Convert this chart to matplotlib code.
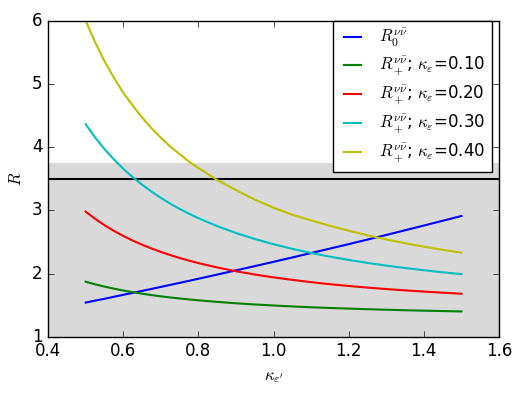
import matplotlib
matplotlib.use("Agg")
import matplotlib.pyplot as plt

plt.style.use("classic")

kappa = [0.500, 0.525, 0.550, 0.575, 0.600, 0.625, 0.650, 0.675, 0.700, 0.725,
         0.750, 0.775, 0.80, 0.85, 0.90, 0.95, 1.00,
         1.05, 1.10, 1.15, 1.20, 1.25, 1.30, 1.35, 1.40, 1.45, 1.50]

R0 = [1.540, 1.571, 1.600, 1.632, 1.663, 1.694, 1.725, 1.756, 1.788, 1.820,
      1.852, 1.884, 1.917, 1.983, 2.05, 2.117, 2.185,
      2.254, 2.324, 2.394, 2.465, 2.537, 2.61, 2.684, 2.759, 2.834, 2.91]

R_k010 = [1.870, 1.829, 1.793, 1.760, 1.731, 1.705, 1.681, 1.659, 1.639, 1.621,
          1.605, 1.590, 1.576, 1.551, 1.529, 1.510, 1.494,
          1.479, 1.466, 1.455, 1.445, 1.435, 1.427, 1.419, 1.412, 1.406, 1.400]

R_k020 = [2.979, 2.866, 2.765, 2.675, 2.594, 2.522, 2.456, 2.396, 2.342, 2.292,
          2.246, 2.204, 2.165, 2.096, 2.036, 1.984, 1.939,
          1.899, 1.863, 1.831, 1.803, 1.777, 1.754, 1.733, 1.714, 1.696, 1.680]

R_k030 = [4.361, 4.154, 3.970, 3.806, 3.658, 3.526, 3.406, 3.297, 3.197, 3.106,
          3.023, 2.946, 2.876, 2.750, 2.641, 2.546, 2.463,
          2.390, 2.325, 2.267, 2.215, 2.168, 2.125, 2.087, 2.052, 2.019, 1.990]

R_k040 = [6.000, 5.660, 5.360, 5.100, 4.860, 4.660, 4.470, 4.300, 4.150, 4.010,
          3.890, 3.770, 3.670, 3.480, 3.320, 3.170, 3.040,
          2.930, 2.840, 2.755, 2.677, 2.605, 2.539, 2.479, 2.425, 2.375, 2.330]

labels = [r"$R_0^{\nu\bar\nu}$",
          r"$R_+^{\nu\bar\nu}$; $\kappa_\varepsilon$=0.10",
          r"$R_+^{\nu\bar\nu}$; $\kappa_\varepsilon$=0.20",
          r"$R_+^{\nu\bar\nu}$; $\kappa_\varepsilon$=0.30",
          r"$R_+^{\nu\bar\nu}$; $\kappa_\varepsilon$=0.40"]
colors = ["b", "g", "r", "c", "y"]

band_low, band_high = 1.0, 3.75
bound = 3.5

fig = plt.figure(figsize=(5.23, 3.94), dpi=100, facecolor="white")
ax = fig.add_axes([0.092, 0.1454, 0.862, 0.802])

ax.axhspan(band_low, band_high, color="#d9d9d9", lw=0, zorder=0)
ax.axhline(bound, color="k", lw=1.5, zorder=1)

for y, c, lab in zip([R0, R_k010, R_k020, R_k030, R_k040], colors, labels):
    ax.plot(kappa, y, color=c, lw=1.5, label=lab, zorder=2)

ax.set_xlim(0.4, 1.6)
ax.set_ylim(1, 6)
ax.set_xticks([0.4, 0.6, 0.8, 1.0, 1.2, 1.4, 1.6])
ax.set_yticks([1, 2, 3, 4, 5, 6])
ax.set_xlabel(r"$\kappa_{\varepsilon'}$", fontsize=12)
ax.set_ylabel(r"$R$", fontsize=12)

leg = ax.legend(loc="upper right", fontsize=12, handlelength=1.6,
                borderaxespad=0.0, bbox_to_anchor=(0.985, 1.0),
                labelspacing=0.35, frameon=True)
leg.get_frame().set_edgecolor("k")

fig.savefig("out.png", dpi=100, facecolor="white")
